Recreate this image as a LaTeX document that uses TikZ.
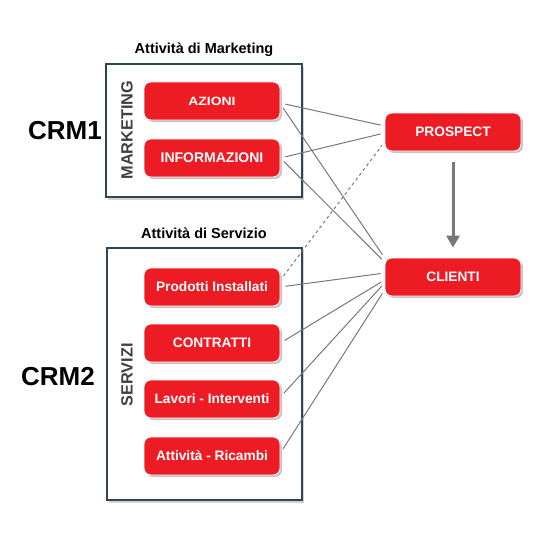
\documentclass[tikz,border=0pt]{standalone}
\usepackage{fontspec}
\setmainfont{Liberation Sans}
\usepackage{xcolor}
\usepackage{tikz}
\usetikzlibrary{arrows.meta,shadows,positioning}
\definecolor{crmred}{RGB}{237,28,36}
\definecolor{boxline}{RGB}{45,70,85}
\definecolor{linkgray}{RGB}{120,120,120}

\begin{document}
\begin{tikzpicture}[x=1pt,y=-1pt,>={Triangle[length=12pt,width=13pt]},
act/.style={draw=white,line width=0.8pt,fill=crmred,rounded corners=7pt,minimum width=136pt,minimum height=38pt,text=white,font=\bfseries\fontsize{13.7}{15}\selectfont,drop shadow={shadow xshift=2pt,shadow yshift=-2pt,fill=black!45}},
area/.style={draw=boxline,line width=1.2pt,fill=white,drop shadow={shadow xshift=2pt,shadow yshift=-3pt,fill=black!35}},
link/.style={linkgray,line width=1pt,shorten <=5pt,shorten >=4pt},
title/.style={font=\bfseries\fontsize{14.5}{16}\selectfont},
side/.style={rotate=90,text=black!75,font=\bfseries\fontsize{16.3}{18}\selectfont},
crm/.style={font=\bfseries\fontsize{26}{28}\selectfont}]
\useasboundingbox (0,0) rectangle (557,535);
\draw[area](106,64) rectangle (302,197);
\draw[area](107,248) rectangle (302,500);
\node[title] (titmkt) at (204,50) {Attività di Marketing};
\node[title] (titserv) at (204,233) {Attività di Servizio};
\node[side] (lblmkt) at (127,130) {MARKETING};
\node[side] (lblserv) at (127,375) {SERVIZI};
\node[crm] (crm1) at (65,131) {CRM1};
\node[crm] (crm2) at (58,377) {CRM2};
\node[act,font=\bfseries\fontsize{12}{13}\selectfont] (azioni) at (212,101) {\scalebox{1.16}[1]{AZIONI}};
\node[act,font=\bfseries\fontsize{14}{15}\selectfont] (info) at (212,158) {INFORMAZIONI};
\node[act] (prodotti) at (212,287) {Prodotti Installati};
\node[act] (contratti) at (212,343) {CONTRATTI};
\node[act] (lavori) at (212,399) {Lavori - Interventi};
\node[act] (ricambi) at (212,456) {Attività - Ricambi};
\node[act] (prospect) at (453,132) {PROSPECT};
\node[act] (clienti) at (453,277) {CLIENTI};
\draw[->,line width=3pt,linkgray,shorten <=11pt,shorten >=10pt](prospect)--(clienti);
\draw[link]([yshift=-2pt]azioni.east)--([yshift=6pt]prospect.west);
\draw[link]([yshift=-3pt]azioni.east)--([yshift=19pt]clienti.west);
\draw[link](info.east)--([yshift=-1pt]prospect.west);
\draw[link](info.east)--([yshift=15pt]clienti.west);
\draw[link,dashed]([yshift=7pt]prodotti.east)--([yshift=-10pt]prospect.west);
\draw[link](prodotti.east)--([yshift=4pt]clienti.west);
\draw[link](contratti.east)--([yshift=-3pt]clienti.west);
\draw[link]([yshift=2pt]lavori.east)--([yshift=-6pt]clienti.west);
\draw[link]([yshift=3pt]ricambi.east)--([yshift=-13pt]clienti.west);
\end{tikzpicture}
\end{document}
